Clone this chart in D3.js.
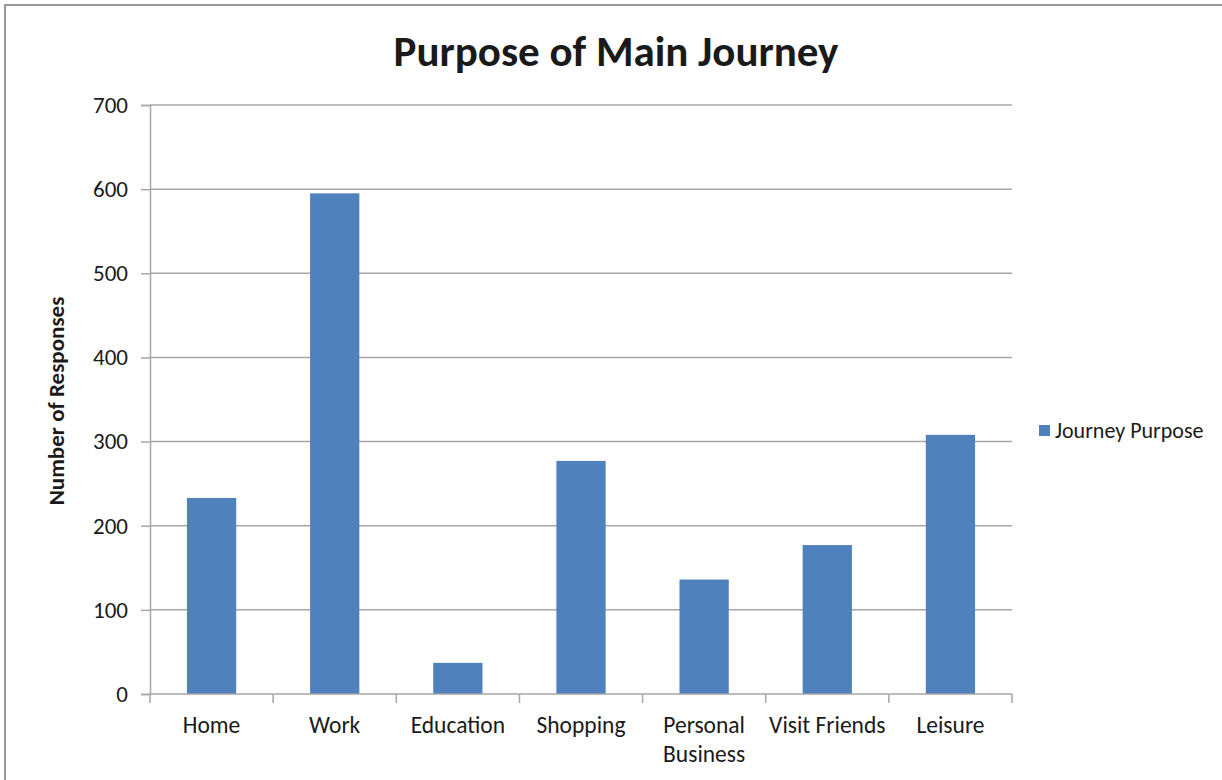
<!DOCTYPE html>
<html>
<head>
<meta charset="utf-8">
<script src="https://cdn.jsdelivr.net/npm/d3@7/dist/d3.min.js"></script>
<style>
  html, body { margin: 0; padding: 0; background: #fff; }
  svg { display: block; }
  text { font-family: Calibri, Carlito, Lato, "Open Sans", sans-serif; fill: #1a1a1a; }
</style>
</head>
<body>
<script>
// Journey purpose survey responses
const categories = ["Home", "Work", "Education", "Shopping", "Personal Business", "Visit Friends", "Leisure"];
const responses = [233, 595, 37, 277, 136, 177, 308];
const yTicks = [0, 100, 200, 300, 400, 500, 600, 700];
const seriesName = "Journey Purpose";
const chartTitle = "Purpose of Main Journey";
const yAxisTitle = "Number of Responses";

const W = 1222, H = 780;
const plot = { left: 150, right: 1012, top: 105, bottom: 694 };
const barColor = "#4f81bd";
const gridColor = "#a6a6a6";

const svg = d3.select("body").append("svg").attr("width", W).attr("height", H);

// outer chart frame
svg.append("rect").attr("x", 5).attr("y", 5).attr("width", W + 10).attr("height", H + 10)
  .attr("fill", "#fff").attr("stroke", "#999").attr("stroke-width", 2);

const x = d3.scaleBand().domain(categories).range([plot.left, plot.right]).paddingInner(0.6).paddingOuter(0.3);
const xEdge = d3.scaleBand().domain(categories).range([plot.left, plot.right]);
const y = d3.scaleLinear().domain([0, 700]).range([plot.bottom, plot.top]);

// horizontal gridlines + y axis
const yAxis = d3.axisLeft(y).tickValues(yTicks).tickSize(9).tickPadding(13);
const gy = svg.append("g").attr("transform", `translate(${plot.left},0)`).call(yAxis);
gy.select(".domain").attr("stroke", gridColor).attr("stroke-width", 1.5);
gy.selectAll(".tick line").attr("stroke", gridColor).attr("stroke-width", 1.5);
gy.selectAll(".tick text").style("font-size", "23px").attr("fill", "#1a1a1a")
  .style("font-family", "Calibri, Carlito, Lato, sans-serif");

svg.append("g").selectAll("line").data(yTicks.filter(v => v > 0)).join("line")
  .attr("x1", plot.left).attr("x2", plot.right)
  .attr("y1", d => y(d)).attr("y2", d => y(d))
  .attr("stroke", gridColor).attr("stroke-width", 1.5);

// bars
svg.append("g").selectAll("rect").data(categories).join("rect")
  .attr("x", d => x(d))
  .attr("width", x.bandwidth())
  .attr("y", (d, i) => y(responses[i]))
  .attr("height", (d, i) => y(0) - y(responses[i]))
  .attr("fill", barColor);

// category axis
const gx = svg.append("g").attr("transform", `translate(0,${plot.bottom})`);
gx.append("line").attr("x1", plot.left).attr("x2", plot.right).attr("y1", 0).attr("y2", 0)
  .attr("stroke", gridColor).attr("stroke-width", 1.5);
const edges = categories.map(c => xEdge(c)).concat([plot.right]);
gx.selectAll("line.tick").data(edges).join("line").attr("class", "tick")
  .attr("x1", d => d).attr("x2", d => d).attr("y1", 0).attr("y2", 9)
  .attr("stroke", gridColor).attr("stroke-width", 1.5);

const labelLines = { "Personal Business": ["Personal", "Business"] };
const xl = gx.selectAll("text").data(categories).join("text")
  .attr("text-anchor", "middle")
  .attr("x", d => xEdge(d) + xEdge.bandwidth() / 2)
  .attr("y", 39)
  .style("font-size", "23.5px");
xl.each(function(d) {
  const lines = labelLines[d] || [d];
  d3.select(this).selectAll("tspan").data(lines).join("tspan")
    .attr("x", xEdge(d) + xEdge.bandwidth() / 2)
    .attr("dy", (l, i) => i === 0 ? 0 : 29)
    .text(l => l);
});

// title
svg.append("text").attr("x", 616).attr("y", 66).attr("text-anchor", "middle")
  .style("font-size", "43px").style("font-weight", "bold").attr("fill", "#000").text(chartTitle);

// y axis title
svg.append("text").attr("transform", "translate(64,401) rotate(-90)")
  .attr("text-anchor", "middle").style("font-size", "23px").style("font-weight", "bold")
  .attr("fill", "#000").text(yAxisTitle);

// legend
const lg = svg.append("g").attr("transform", "translate(1039,425)");
lg.append("rect").attr("width", 11).attr("height", 11).attr("fill", barColor);
lg.append("text").attr("x", 16).attr("y", 13).style("font-size", "22px").text(seriesName);
</script>
</body>
</html>
